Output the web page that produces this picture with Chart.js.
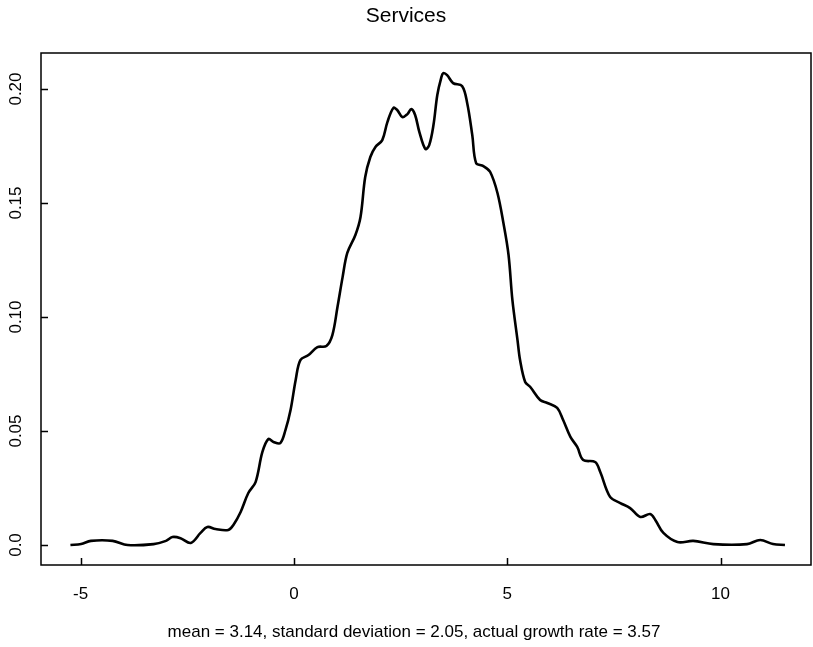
<!DOCTYPE html>
<html>
<head>
<meta charset="utf-8">
<title>Services</title>
<script src="https://cdn.jsdelivr.net/npm/chart.js@4.4.1/dist/chart.umd.min.js"></script>
<style>
  html, body { margin: 0; padding: 0; background: #fff; }
  #wrap { width: 813px; height: 647px; }
</style>
</head>
<body>
<div id="wrap"><canvas id="densityChart" width="813" height="647"></canvas></div>
<script>
const chartTitle = "Services";
const chartCaption = "mean = 3.14, standard deviation = 2.05, actual growth rate = 3.57";

// growth rate (x) and estimated density (y)
const growthX = [
  -5.24, -4.99, -4.76, -4.25, -3.90, -3.29, -3.00, -2.85, -2.66, -2.42,
  -2.19, -2.03, -1.84, -1.54, -1.42, -1.25, -1.07, -0.90, -0.74, -0.60,
  -0.48, -0.32, -0.20, -0.08, 0.04, 0.15, 0.34, 0.55, 0.76, 0.90,
  1.02, 1.14, 1.25, 1.44, 1.56, 1.67, 1.79, 1.91, 2.07, 2.19,
  2.33, 2.42, 2.54, 2.66, 2.75, 2.84, 2.94, 3.08, 3.17, 3.27,
  3.36, 3.45, 3.50, 3.59, 3.73, 3.94, 4.06, 4.18, 4.27, 4.44,
  4.60, 4.77, 4.91, 5.03, 5.12, 5.24, 5.30, 5.42, 5.54, 5.77,
  5.94, 6.17, 6.31, 6.48, 6.64, 6.78, 7.06, 7.18, 7.41, 7.65,
  7.88, 8.12, 8.35, 8.47, 8.66, 8.99, 9.36, 9.83, 10.62, 10.93,
  11.23, 11.51
];
const density = [
  0.0000, 0.0004, 0.0018, 0.0018, 0.0000, 0.0004, 0.0018, 0.0035, 0.0030, 0.0009,
  0.0053, 0.0079, 0.0070, 0.0066, 0.0088, 0.0145, 0.0228, 0.0276, 0.0408, 0.0465,
  0.0452, 0.0447, 0.0504, 0.0592, 0.0724, 0.0811, 0.0833, 0.0868, 0.0873, 0.0921,
  0.1044, 0.1175, 0.1281, 0.1360, 0.1439, 0.1614, 0.1702, 0.1746, 0.1776, 0.1855,
  0.1917, 0.1908, 0.1877, 0.1890, 0.1912, 0.1886, 0.1811, 0.1737, 0.1754, 0.1842,
  0.1974, 0.2048, 0.2070, 0.2061, 0.2026, 0.2013, 0.1939, 0.1798, 0.1675, 0.1662,
  0.1636, 0.1544, 0.1412, 0.1272, 0.1075, 0.0899, 0.0811, 0.0715, 0.0693, 0.0636,
  0.0623, 0.0601, 0.0548, 0.0474, 0.0430, 0.0373, 0.0364, 0.0320, 0.0211, 0.0184,
  0.0162, 0.0123, 0.0136, 0.0110, 0.0053, 0.0013, 0.0018, 0.0004, 0.0004, 0.0022,
  0.0004, 0.0000
];

const xTicks = [-5, 0, 5, 10];
const yTicks = [0, 0.05, 0.10, 0.15, 0.20];
const yTickLabels = ["0.0", "0.05", "0.10", "0.15", "0.20"];

const FONT = '"Liberation Sans", Arial, Helvetica, sans-serif';

// R style frame: box, inward ticks, rotated y labels, title and sub caption
const rFrame = {
  id: 'rFrame',
  afterDraw(chart) {
    const { ctx, chartArea: a, scales: { x, y } } = chart;
    ctx.save();
    ctx.strokeStyle = '#000';
    ctx.fillStyle = '#000';
    ctx.lineWidth = 1.5;
    ctx.strokeRect(a.left, a.top, a.right - a.left, a.bottom - a.top);

    ctx.beginPath();
    xTicks.forEach(v => {
      const px = Math.round(x.getPixelForValue(v)) + 0.5;
      ctx.moveTo(px, a.bottom);
      ctx.lineTo(px, a.bottom - 7);
    });
    yTicks.forEach(v => {
      const py = Math.round(y.getPixelForValue(v)) + 0.5;
      ctx.moveTo(a.left, py);
      ctx.lineTo(a.left + 7, py);
    });
    ctx.stroke();

    ctx.textAlign = 'center';
    ctx.textBaseline = 'middle';
    ctx.font = '17px ' + FONT;
    xTicks.forEach(v => {
      ctx.fillText(String(v), x.getPixelForValue(v), 594);
    });
    yTicks.forEach((v, i) => {
      ctx.save();
      ctx.translate(16, y.getPixelForValue(v));
      ctx.rotate(-Math.PI / 2);
      ctx.fillText(yTickLabels[i], 0, 0);
      ctx.restore();
    });

    ctx.font = '21px ' + FONT;
    ctx.fillText(chartTitle, 406, 16);
    ctx.font = '17px ' + FONT;
    ctx.fillText(chartCaption, 414, 632);
    ctx.restore();
  }
};

const ctx = document.getElementById('densityChart').getContext('2d');

const densityChart = new Chart(ctx, {
  type: 'line',
  data: {
    datasets: [{
      label: chartTitle,
      data: growthX.map((g, i) => ({ x: g, y: density[i] })),
      borderColor: '#000',
      borderWidth: 2.6,
      pointRadius: 0,
      tension: 0.35,
      fill: false
    }]
  },
  options: {
    responsive: false,
    animation: false,
    devicePixelRatio: 1,
    layout: { padding: { left: 0, top: 53, right: 2, bottom: 0 } },
    plugins: {
      legend: { display: false },
      title: { display: false },
      tooltip: { enabled: false }
    },
    scales: {
      x: {
        type: 'linear',
        min: -5.93,
        max: 12.12,
        grid: { display: false },
        border: { display: false },
        ticks: { display: false },
        afterFit: (scale) => { scale.height = 82; }
      },
      y: {
        min: -0.00877,
        max: 0.2158,
        grid: { display: false },
        border: { display: false },
        ticks: { display: false },
        afterFit: (scale) => { scale.width = 41; }
      }
    }
  },
  plugins: [rFrame]
});
</script>
</body>
</html>
